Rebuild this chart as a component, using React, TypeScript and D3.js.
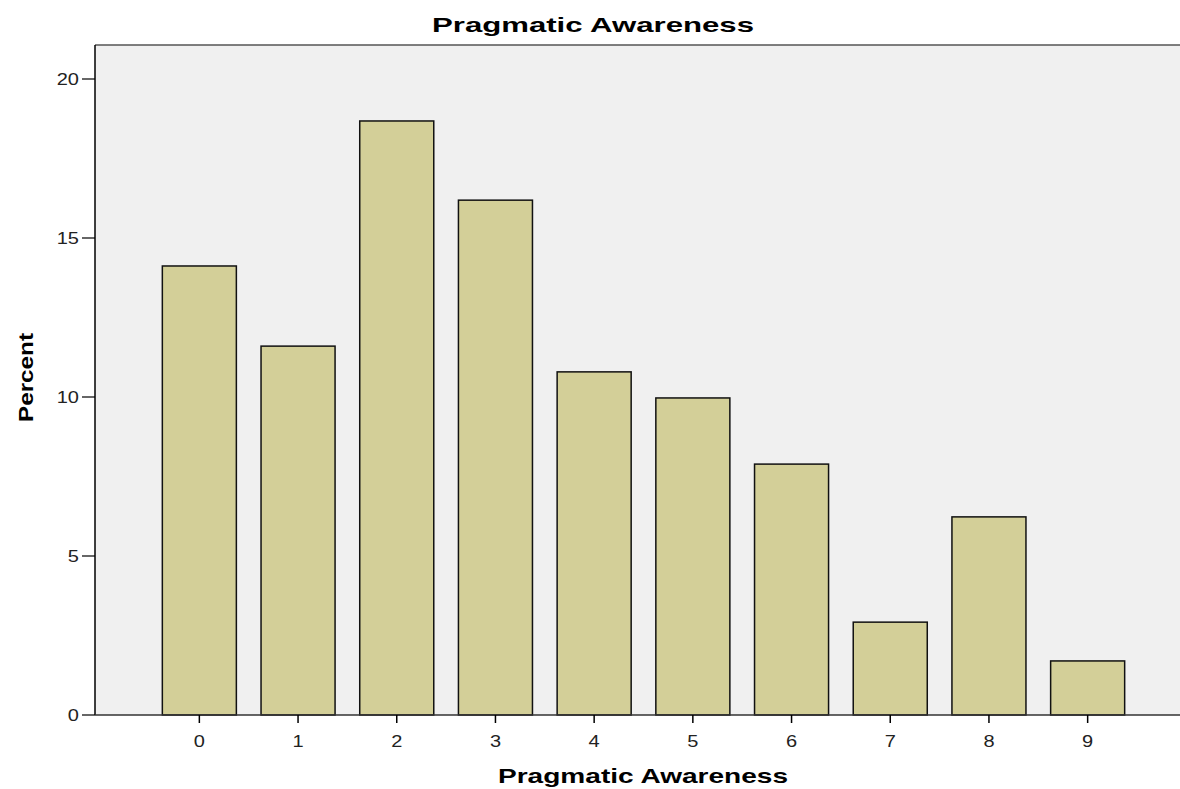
import React, { useEffect, useRef } from 'react';
import * as d3 from 'd3';

const categories = ['0', '1', '2', '3', '4', '5', '6', '7', '8', '9'];
const percents = [14.12, 11.6, 18.68, 16.19, 10.79, 9.97, 7.89, 2.92, 6.23, 1.7];
const yTicks = [0, 5, 10, 15, 20];

const W = 1180;
const H = 789;

const App: React.FC = () => {
  const svgRef = useRef<SVGSVGElement>(null);

  useEffect(() => {
    const svg = d3.select(svgRef.current);
    svg.selectAll('*').remove();

    const plot = { left: 95, top: 45, right: 1182, bottom: 715 };
    const font = '"Liberation Sans", Arial, sans-serif';
    const stretch = 1.25; // the source image is wider than tall

    const x = d3.scaleBand<string>()
      .domain(categories)
      .range([150, 1137])
      .paddingInner(0.25)
      .paddingOuter(0.125);

    const y = d3.scaleLinear()
      .domain([0, 20])
      .range([plot.bottom, 79]);

    // plot background
    svg.append('rect')
      .attr('x', plot.left)
      .attr('y', plot.top)
      .attr('width', plot.right - plot.left)
      .attr('height', plot.bottom - plot.top)
      .attr('fill', '#f0f0f0');

    // top border
    svg.append('line')
      .attr('x1', plot.left).attr('x2', plot.right)
      .attr('y1', plot.top).attr('y2', plot.top)
      .attr('stroke', '#555').attr('stroke-width', 1.5);

    // bars
    svg.append('g')
      .selectAll('rect')
      .data(categories)
      .join('rect')
      .attr('x', d => x(d)!)
      .attr('y', (d, i) => y(percents[i]))
      .attr('width', x.bandwidth())
      .attr('height', (d, i) => y(0) - y(percents[i]))
      .attr('fill', '#d3cf98')
      .attr('stroke', '#111')
      .attr('stroke-width', 1.5);

    // y axis
    svg.append('line')
      .attr('x1', plot.left).attr('x2', plot.left)
      .attr('y1', plot.top).attr('y2', plot.bottom)
      .attr('stroke', '#000').attr('stroke-width', 1.5);

    const yg = svg.append('g');
    yTicks.forEach(t => {
      yg.append('line')
        .attr('x1', plot.left - 13).attr('x2', plot.left)
        .attr('y1', y(t)).attr('y2', y(t))
        .attr('stroke', '#000').attr('stroke-width', 1.2);
      yg.append('text')
        .attr('transform', `translate(${plot.left - 16},${y(t)}) scale(${stretch},1)`)
        .attr('dy', '0.35em')
        .attr('text-anchor', 'end')
        .attr('font-family', font)
        .attr('font-size', 16)
        .attr('fill', '#222')
        .text(t);
    });

    // x axis
    svg.append('line')
      .attr('x1', plot.left).attr('x2', plot.right)
      .attr('y1', plot.bottom).attr('y2', plot.bottom)
      .attr('stroke', '#333').attr('stroke-width', 1.5);

    const xg = svg.append('g');
    categories.forEach(c => {
      const cx = x(c)! + x.bandwidth() / 2;
      xg.append('line')
        .attr('x1', cx).attr('x2', cx)
        .attr('y1', plot.bottom).attr('y2', plot.bottom + 8)
        .attr('stroke', '#000').attr('stroke-width', 1.5);
      xg.append('text')
        .attr('transform', `translate(${cx},${plot.bottom + 32}) scale(${stretch},1)`)
        .attr('text-anchor', 'middle')
        .attr('font-family', font)
        .attr('font-size', 16)
        .attr('fill', '#222')
        .text(c);
    });

    // title and axis labels
    svg.append('text')
      .attr('x', 432).attr('y', 32)
      .attr('textLength', 322)
      .attr('lengthAdjust', 'spacingAndGlyphs')
      .attr('font-family', font)
      .attr('font-weight', 'bold')
      .attr('font-size', 21)
      .text('Pragmatic Awareness');

    svg.append('text')
      .attr('x', 498).attr('y', 783)
      .attr('textLength', 290)
      .attr('lengthAdjust', 'spacingAndGlyphs')
      .attr('font-family', font)
      .attr('font-weight', 'bold')
      .attr('font-size', 21)
      .text('Pragmatic Awareness');

    svg.append('text')
      .attr('transform', `translate(33, 422) rotate(-90)`)
      .attr('textLength', 89)
      .attr('lengthAdjust', 'spacingAndGlyphs')
      .attr('font-family', font)
      .attr('font-weight', 'bold')
      .attr('font-size', 21)
      .text('Percent');
  }, []);

  return (
    <div style={{ position: 'fixed', left: 0, top: 0, width: W, height: H, background: '#fff' }}>
      <svg ref={svgRef} width={W} height={H}></svg>
    </div>
  );
};

export default App;
